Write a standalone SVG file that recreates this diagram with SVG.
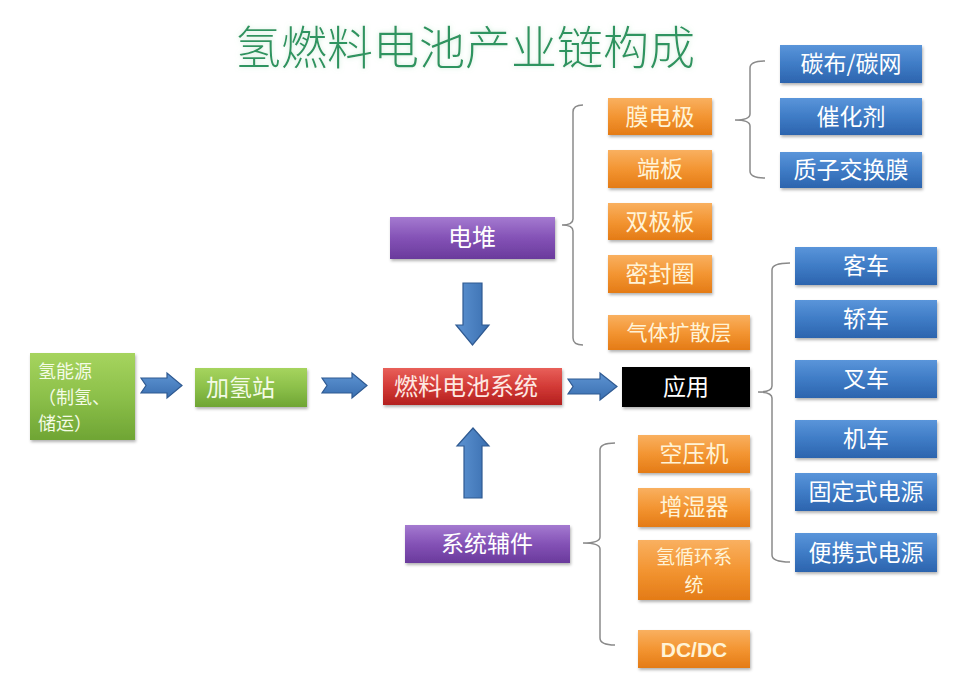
<svg xmlns="http://www.w3.org/2000/svg" width="960" height="678" viewBox="0 0 960 678">
<defs>
<linearGradient id="gOr" x1="0" y1="0" x2="0" y2="1"><stop offset="0" stop-color="#f9b060"/><stop offset="0.5" stop-color="#f39532"/><stop offset="1" stop-color="#e47b16"/></linearGradient>
<linearGradient id="gBl" x1="0" y1="0" x2="0" y2="1"><stop offset="0" stop-color="#5a95da"/><stop offset="0.5" stop-color="#3f7cc6"/><stop offset="1" stop-color="#2c64ae"/></linearGradient>
<linearGradient id="gPu" x1="0" y1="0" x2="0" y2="1"><stop offset="0" stop-color="#a47ad0"/><stop offset="0.5" stop-color="#8452b6"/><stop offset="1" stop-color="#6a3a9c"/></linearGradient>
<linearGradient id="gRd" x1="0" y1="0" x2="0" y2="1"><stop offset="0" stop-color="#e8605a"/><stop offset="0.5" stop-color="#d33a36"/><stop offset="1" stop-color="#b3201f"/></linearGradient>
<linearGradient id="gGr" x1="0" y1="0" x2="0" y2="1"><stop offset="0" stop-color="#a6d45e"/><stop offset="0.5" stop-color="#8cc04a"/><stop offset="1" stop-color="#6fa534"/></linearGradient>
<linearGradient id="gAr" x1="0" y1="0" x2="0" y2="1"><stop offset="0" stop-color="#5d93d2"/><stop offset="1" stop-color="#3a6fb0"/></linearGradient>
<linearGradient id="gArV" x1="0" y1="0" x2="1" y2="0"><stop offset="0" stop-color="#5d93d2"/><stop offset="1" stop-color="#3a6fb0"/></linearGradient>
<filter id="sh" x="-10%" y="-20%" width="120%" height="150%"><feDropShadow dx="1" dy="2" stdDeviation="1.5" flood-color="#000" flood-opacity="0.3"/></filter>
<filter id="glow" x="-5%" y="-20%" width="110%" height="140%"><feGaussianBlur in="SourceAlpha" stdDeviation="2.5" result="b"/><feFlood flood-color="#bfe8cf" flood-opacity="0.8"/><feComposite in2="b" operator="in" result="g"/><feMerge><feMergeNode in="g"/><feMergeNode in="SourceGraphic"/></feMerge></filter>
</defs>
<style>
text{font-family:"Noto Sans CJK SC","Liberation Sans",sans-serif;text-anchor:middle}
.t{fill:#ffffff;font-size:23px}
.o{fill:#fff3d6;font-size:23px}
.or{fill:url(#gOr)}
.bl{fill:url(#gBl)}
.pu{fill:url(#gPu)}
.rd{fill:url(#gRd)}
.gr{fill:url(#gGr)}
.bx{filter:url(#sh)}
.br{fill:none;stroke:#8a8a8a;stroke-width:1.5}
.ar{fill:url(#gAr);stroke:#2f5a92;stroke-width:1.2}
.av{fill:url(#gArV);stroke:#2f5a92;stroke-width:1.2}
</style>
<rect width="960" height="678" fill="#ffffff"/>
<text x="465" y="64" style="font-size:46px;fill:#2f9460;font-weight:300;letter-spacing:0px" filter="url(#glow)">氢燃料电池产业链构成</text>

<g id="connectors">
<polygon class="ar" points="141,378 167,378 167,373 182,385.5 167,398 167,393 141,393 146,385.5"/>
<polygon class="ar" points="322,378 352,378 352,373 367,385.5 352,398 352,393 322,393 327,385.5"/>
<polygon class="ar" points="568,379 600,379 600,373 617,386.5 600,400 600,394 568,394 573,386.5"/>
<polygon class="av" points="463,283 482,283 482,325 489,325 472.5,345 456,325 463,325"/>
<polygon class="av" points="464,498 482,498 482,446 489,446 473,428 457,446 464,446"/>
<path class="br" d="M583,105 Q573,105 573,112 L573,219 Q573,225 562,225 Q573,225 573,231 L573,338 Q573,345 583,345"/>
<path class="br" d="M765,61 Q750,61 750,68 L750,114 Q750,120 735,120 Q750,120 750,126 L750,171 Q750,178 765,178"/>
<path class="br" d="M790,263 Q772,263 772,270 L772,386 Q772,392 758,392 Q772,392 772,398 L772,555 Q772,562 790,562"/>
<path class="br" d="M615,443 Q600,443 600,450 L600,537 Q600,543 583,543 Q600,543 600,549 L600,638 Q600,645 615,645"/>
</g>

<g id="n-source"><rect class="gr bx" x="30" y="353" width="105" height="87"/>
<text class="o" style="font-size:18px;text-anchor:start;fill:#f4fbe6" x="38" y="378">氢能源</text>
<text class="o" style="font-size:18px;text-anchor:start;fill:#f4fbe6" x="38" y="404">（制氢、</text>
<text class="o" style="font-size:18px;text-anchor:start;fill:#f4fbe6" x="38" y="430">储运）</text></g>
<g id="n-station"><rect class="gr bx" x="195" y="368" width="112" height="39"/><text class="o" style="fill:#f4fbe6;text-anchor:start" x="206" y="396">加氢站</text></g>
<g id="n-system"><rect class="rd bx" x="383" y="368" width="179" height="37"/><text class="o" style="fill:#fde8e2;font-size:24px" x="466" y="395">燃料电池系统</text></g>
<g id="n-app"><rect class="bx" fill="#000" x="622" y="367" width="128" height="40"/><text class="t" x="686" y="395">应用</text></g>
<g id="n-stack"><rect class="pu bx" x="390" y="217" width="165" height="42"/><text class="t" style="font-size:24px" x="472" y="246">电堆</text></g>
<g id="n-aux"><rect class="pu bx" x="405" y="525" width="165" height="38"/><text class="t" x="487" y="552">系统辅件</text></g>

<g id="n-mea"><rect class="or bx" x="608" y="98" width="104" height="37"/><text class="o" x="660" y="125">膜电极</text></g>
<g id="n-endplate"><rect class="or bx" x="608" y="150" width="104" height="38"/><text class="o" x="660" y="177">端板</text></g>
<g id="n-bipolar"><rect class="or bx" x="608" y="203" width="104" height="37"/><text class="o" x="660" y="230">双极板</text></g>
<g id="n-seal"><rect class="or bx" x="608" y="255" width="104" height="38"/><text class="o" x="660" y="282">密封圈</text></g>
<g id="n-gdl"><rect class="or bx" x="608" y="315" width="142" height="35"/><text class="o" style="font-size:21px" x="679" y="340">气体扩散层</text></g>

<g id="n-carbon"><rect class="bl bx" x="780" y="45" width="142" height="38"/><text class="t" x="851" y="72">碳布/碳网</text></g>
<g id="n-catalyst"><rect class="bl bx" x="780" y="98" width="142" height="37"/><text class="t" x="851" y="125">催化剂</text></g>
<g id="n-pem"><rect class="bl bx" x="780" y="152" width="142" height="36"/><text class="t" x="851" y="178">质子交换膜</text></g>

<g id="n-bus"><rect class="bl bx" x="795" y="247" width="142" height="38"/><text class="t" x="866" y="274">客车</text></g>
<g id="n-car"><rect class="bl bx" x="795" y="300" width="142" height="38"/><text class="t" x="866" y="327">轿车</text></g>
<g id="n-forklift"><rect class="bl bx" x="795" y="360" width="142" height="38"/><text class="t" x="866" y="387">叉车</text></g>
<g id="n-loco"><rect class="bl bx" x="795" y="420" width="142" height="38"/><text class="t" x="866" y="447">机车</text></g>
<g id="n-fixed"><rect class="bl bx" x="795" y="473" width="142" height="38"/><text class="t" x="866" y="500">固定式电源</text></g>
<g id="n-portable"><rect class="bl bx" x="795" y="533" width="142" height="39"/><text class="t" x="866" y="561">便携式电源</text></g>

<g id="n-compressor"><rect class="or bx" x="638" y="435" width="112" height="38"/><text class="o" x="694" y="462">空压机</text></g>
<g id="n-humidifier"><rect class="or bx" x="638" y="488" width="112" height="39"/><text class="o" x="694" y="515">增湿器</text></g>
<g id="n-h2loop"><rect class="or bx" x="638" y="540" width="112" height="60"/><text class="o" style="font-size:19px" x="694" y="564">氢循环系</text><text class="o" style="font-size:19px" x="694" y="592">统</text></g>
<g id="n-dcdc"><rect class="or bx" x="638" y="630" width="112" height="38"/><text class="o" style="font-family:'Liberation Sans',sans-serif;font-weight:bold;font-size:21px" x="694" y="657">DC/DC</text></g>
</svg>
